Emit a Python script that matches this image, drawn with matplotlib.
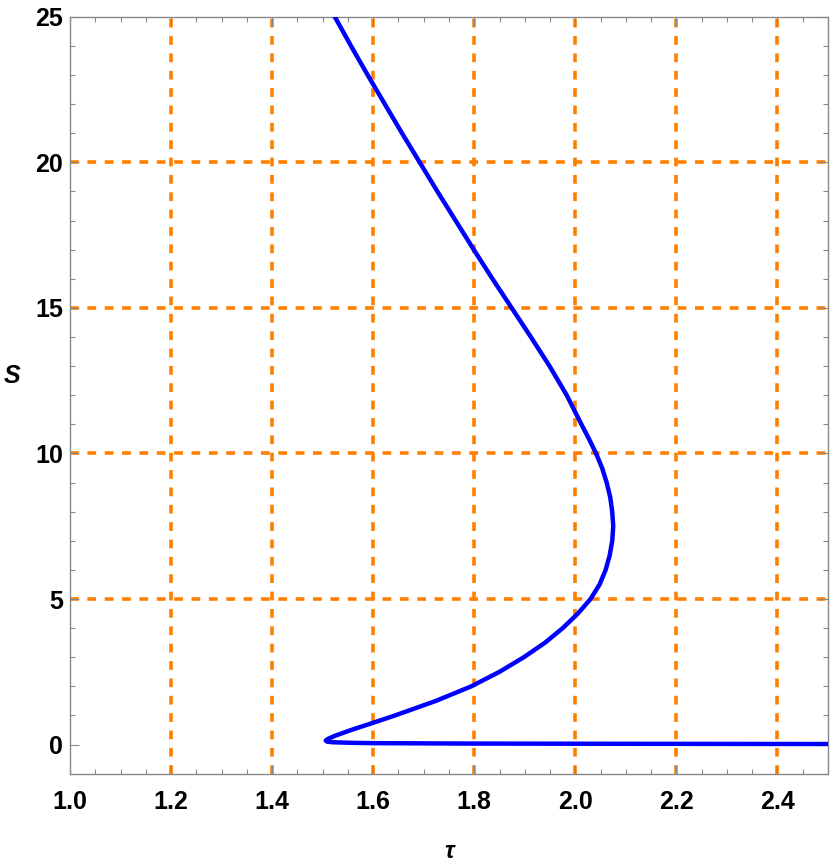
import matplotlib
matplotlib.use("Agg")
import matplotlib.pyplot as plt
from matplotlib.ticker import MultipleLocator

# curve, ordered along the branch (tau, S)
tau = [1.524, 1.556, 1.589, 1.623, 1.657, 1.692, 1.727, 1.763, 1.799, 1.836,
       1.874, 1.912, 1.949, 1.983, 2.012, 2.027, 2.041, 2.053, 2.062, 2.069,
       2.073, 2.075, 2.073, 2.068, 2.060, 2.048, 2.030, 2.005, 1.975, 1.940,
       1.898, 1.850, 1.794, 1.724, 1.643, 1.600, 1.556, 1.524, 1.511, 1.506,
       1.509, 1.520, 1.560, 1.600, 1.800, 2.000, 2.200, 2.500]
S = [25.0, 24.0, 23.0, 22.0, 21.0, 20.0, 19.0, 18.0, 17.0, 16.0,
     15.0, 14.0, 13.0, 12.0, 11.0, 10.5, 10.0, 9.5, 9.0, 8.5,
     8.0, 7.5, 7.0, 6.5, 6.0, 5.5, 5.0, 4.5, 4.0, 3.5,
     3.0, 2.5, 2.0, 1.5, 1.0, 0.75, 0.5, 0.3, 0.2, 0.14,
     0.1, 0.08, 0.06, 0.05, 0.035, 0.03, 0.025, 0.02]

grid_tau = [1.2, 1.4, 1.6, 1.8, 2.0, 2.2, 2.4]
grid_S = [5, 10, 15, 20]
xticks = [1.0, 1.2, 1.4, 1.6, 1.8, 2.0, 2.2, 2.4]
yticks = [0, 5, 10, 15, 20, 25]

plt.rcParams['font.family'] = ['Liberation Sans', 'DejaVu Sans']
plt.rcParams['lines.scale_dashes'] = False

fig = plt.figure(figsize=(8.3, 8.67), dpi=100)
ax = fig.add_axes([0.0843, 0.1076, 0.9133, 0.8731])

orange = '#ff8000'
for g in grid_tau:
    ax.axvline(g, color=orange, lw=2.6, ls=(0, (6.3, 6.2)), zorder=1)
for g in grid_S:
    ax.axhline(g, color=orange, lw=2.6, ls=(0, (6.3, 6.2)), zorder=1)

ax.plot(tau, S, color='#0000ff', lw=3.2, solid_joinstyle='round',
        solid_capstyle='round', zorder=3)

ax.set_xlim(1.0, 2.5)
ax.set_ylim(-1, 25)
ax.set_xticks(xticks)
ax.set_yticks(yticks)
ax.xaxis.set_minor_locator(MultipleLocator(0.05))
ax.yaxis.set_minor_locator(MultipleLocator(1))

for sp in ax.spines.values():
    sp.set_color('#888888')
    sp.set_linewidth(1.0)

ax.tick_params(which='both', direction='in', top=True, right=True,
               color='#888888', width=0.8)
ax.tick_params(which='major', length=6.5)
ax.tick_params(which='minor', length=3.6)
ax.tick_params(axis='x', which='major', pad=12)
ax.tick_params(axis='y', which='major', pad=5)
for lab in ax.get_xticklabels() + ax.get_yticklabels():
    lab.set_fontsize(18)
    lab.set_fontweight('bold')

ax.set_xlabel('τ', fontsize=17, fontweight='bold', fontstyle='italic',
              va='center')
ax.xaxis.set_label_coords(0.5, -0.103)
ax.set_ylabel('S', fontsize=18, fontweight='bold', fontstyle='italic',
              rotation=0, va='center', ha='center')
ax.yaxis.set_label_coords(-0.0765, 0.525)

fig.savefig('out.png', dpi=100)
